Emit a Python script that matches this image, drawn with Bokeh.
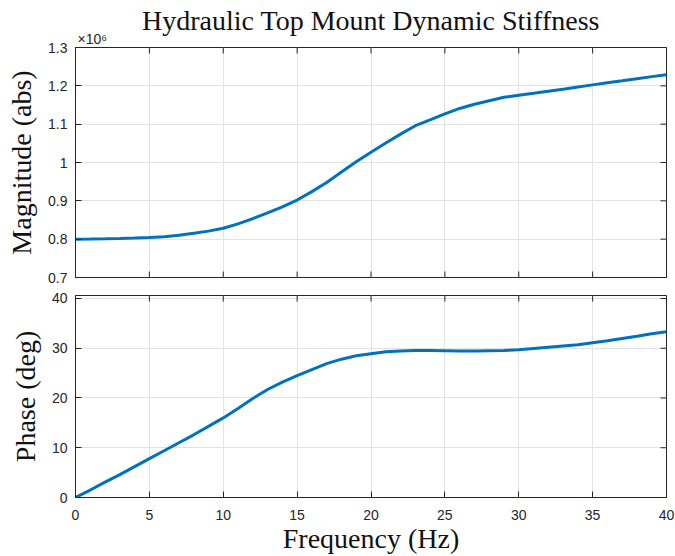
import math

from bokeh.plotting import figure
from bokeh.layouts import column
from bokeh.models import FixedTicker, CustomJSTickFormatter, Range1d, Title
from bokeh.embed import file_html
from bokeh.resources import INLINE

# Frequency response of the hydraulic top mount
freq_hz = [0, 1, 2, 3, 4, 5, 6, 7, 8, 9, 10, 11, 12, 13, 14, 15, 16, 17, 18, 19, 20,
           21, 22, 23, 24, 25, 26, 27, 28, 29, 30, 31, 32, 33, 34, 35, 36, 37, 38, 39, 40]
magnitude_abs = [800000, 800200, 800800, 801700, 802800, 804200, 806600, 810500, 815500,
                 821000, 828500, 840000, 853500, 868500, 884500, 902000, 924000, 948000,
                 975000, 1002000, 1027000, 1051000, 1074000, 1096000, 1111000, 1127000,
                 1141000, 1152000, 1161000, 1170000, 1175500, 1180500, 1186000, 1191000,
                 1197000, 1202500, 1208000, 1213000, 1218500, 1224000, 1229000]
phase_deg = [0.0, 1.5, 3.1, 4.6, 6.2, 7.8, 9.4, 11.0, 12.6, 14.3, 16.0, 17.9, 19.9, 21.7,
             23.2, 24.5, 25.7, 26.9, 27.8, 28.5, 28.9, 29.3, 29.45, 29.55, 29.55, 29.5,
             29.45, 29.45, 29.5, 29.55, 29.7, 29.95, 30.2, 30.45, 30.7, 31.1, 31.5, 31.95,
             32.4, 32.9, 33.3]

freq_ticks = [0, 5, 10, 15, 20, 25, 30, 35, 40]
mag_ticks = [700000, 800000, 900000, 1000000, 1100000, 1200000, 1300000]
phase_ticks = [0, 10, 20, 30, 40]

FREQ_LIM = (0, 40)
MAG_LIM = (700000, 1300000)
PHASE_LIM = (0, 40.6)

LINE_COLOR = "#0072BD"
AXIS_COLOR = "#262626"
GRID_COLOR = "#e3e3e3"
SERIF = "Liberation Serif"
SANS = "Liberation Sans"
TICK_LEN = 12  # marker length; half of it lies inside the frame


def style_axis(ax, ticks):
    ax.ticker = FixedTicker(ticks=ticks)
    ax.axis_line_color = AXIS_COLOR
    ax.axis_line_width = 1
    ax.major_tick_line_color = AXIS_COLOR
    ax.major_tick_in = 6
    ax.major_tick_out = 0
    ax.minor_tick_line_color = None
    ax.major_label_text_font = SANS
    ax.major_label_text_font_size = "14px"
    ax.major_label_text_color = AXIS_COLOR


def style_label(ax, text, standoff):
    ax.axis_label = text
    ax.axis_label_text_font = SERIF
    ax.axis_label_text_font_size = "28px"
    ax.axis_label_text_font_style = "normal"
    ax.axis_label_text_color = "#111111"
    ax.axis_label_standoff = standoff


def style_frame(p, xticks, yticks):
    p.xgrid[0].ticker = FixedTicker(ticks=xticks)
    p.ygrid[0].ticker = FixedTicker(ticks=yticks)
    for g in (p.xgrid[0], p.ygrid[0]):
        g.grid_line_color = GRID_COLOR
        g.grid_line_width = 1
    p.outline_line_color = AXIS_COLOR
    p.outline_line_width = 1


def edge_ticks(p, xs, ys, vertical):
    # inward tick marks on the unlabeled sides of the box; the frame clips the outer half
    p.scatter(xs, ys, marker="dash", size=TICK_LEN, angle=math.pi / 2 if vertical else 0,
              line_color=AXIS_COLOR, line_width=1)


# ---- magnitude panel ----
mag = figure(width=675, height=285, x_range=Range1d(*FREQ_LIM),
             y_range=Range1d(*MAG_LIM), output_backend="svg",
             toolbar_location=None, min_border_left=75, min_border_right=9,
             min_border_top=47, min_border_bottom=8)
mag.xaxis[0].visible = False
style_axis(mag.yaxis[0], mag_ticks)
mag.yaxis[0].major_label_standoff = 8
mag.yaxis[0].formatter = CustomJSTickFormatter(
    code="return String(Math.round(tick / 1e5) / 10);")
style_label(mag.yaxis[0], "Magnitude (abs)", 8)
style_frame(mag, freq_ticks, mag_ticks)

edge_ticks(mag, freq_ticks, [MAG_LIM[1]] * len(freq_ticks), True)
edge_ticks(mag, freq_ticks, [MAG_LIM[0]] * len(freq_ticks), True)
edge_ticks(mag, [FREQ_LIM[1]] * len(mag_ticks), mag_ticks, False)

mag.line(freq_hz, magnitude_abs, line_color=LINE_COLOR, line_width=3)

# exponent of the magnitude axis, sitting just above the frame
mag.add_layout(Title(text="\u00d710\u2076", align="left", offset=2, standoff=1,
                     text_font=SANS, text_font_size="14px", text_font_style="normal",
                     text_color=AXIS_COLOR), "above")

mag.title.text = "Hydraulic Top Mount Dynamic Stiffness"
mag.title.align = "center"
mag.title.text_font = SERIF
mag.title.text_font_size = "28px"
mag.title.text_font_style = "normal"
mag.title.text_color = "#111111"
mag.title.standoff = -14

# ---- phase panel ----
ph = figure(width=675, height=271, x_range=Range1d(*FREQ_LIM),
            y_range=Range1d(*PHASE_LIM), output_backend="svg",
            toolbar_location=None, min_border_left=75, min_border_right=9,
            min_border_top=10, min_border_bottom=59)
style_axis(ph.xaxis[0], freq_ticks)
ph.xaxis[0].major_label_standoff = 12
style_label(ph.xaxis[0], "Frequency (Hz)", 0)
style_axis(ph.yaxis[0], phase_ticks)
ph.yaxis[0].major_label_standoff = 8
style_label(ph.yaxis[0], "Phase (deg)", 8)
style_frame(ph, freq_ticks, phase_ticks)

edge_ticks(ph, freq_ticks, [PHASE_LIM[1]] * len(freq_ticks), True)
edge_ticks(ph, [FREQ_LIM[1]] * len(phase_ticks), phase_ticks, False)

ph.line(freq_hz, phase_deg, line_color=LINE_COLOR, line_width=3)

layout = column(mag, ph, spacing=0)
open("out.html", "w").write(file_html(layout, INLINE))
